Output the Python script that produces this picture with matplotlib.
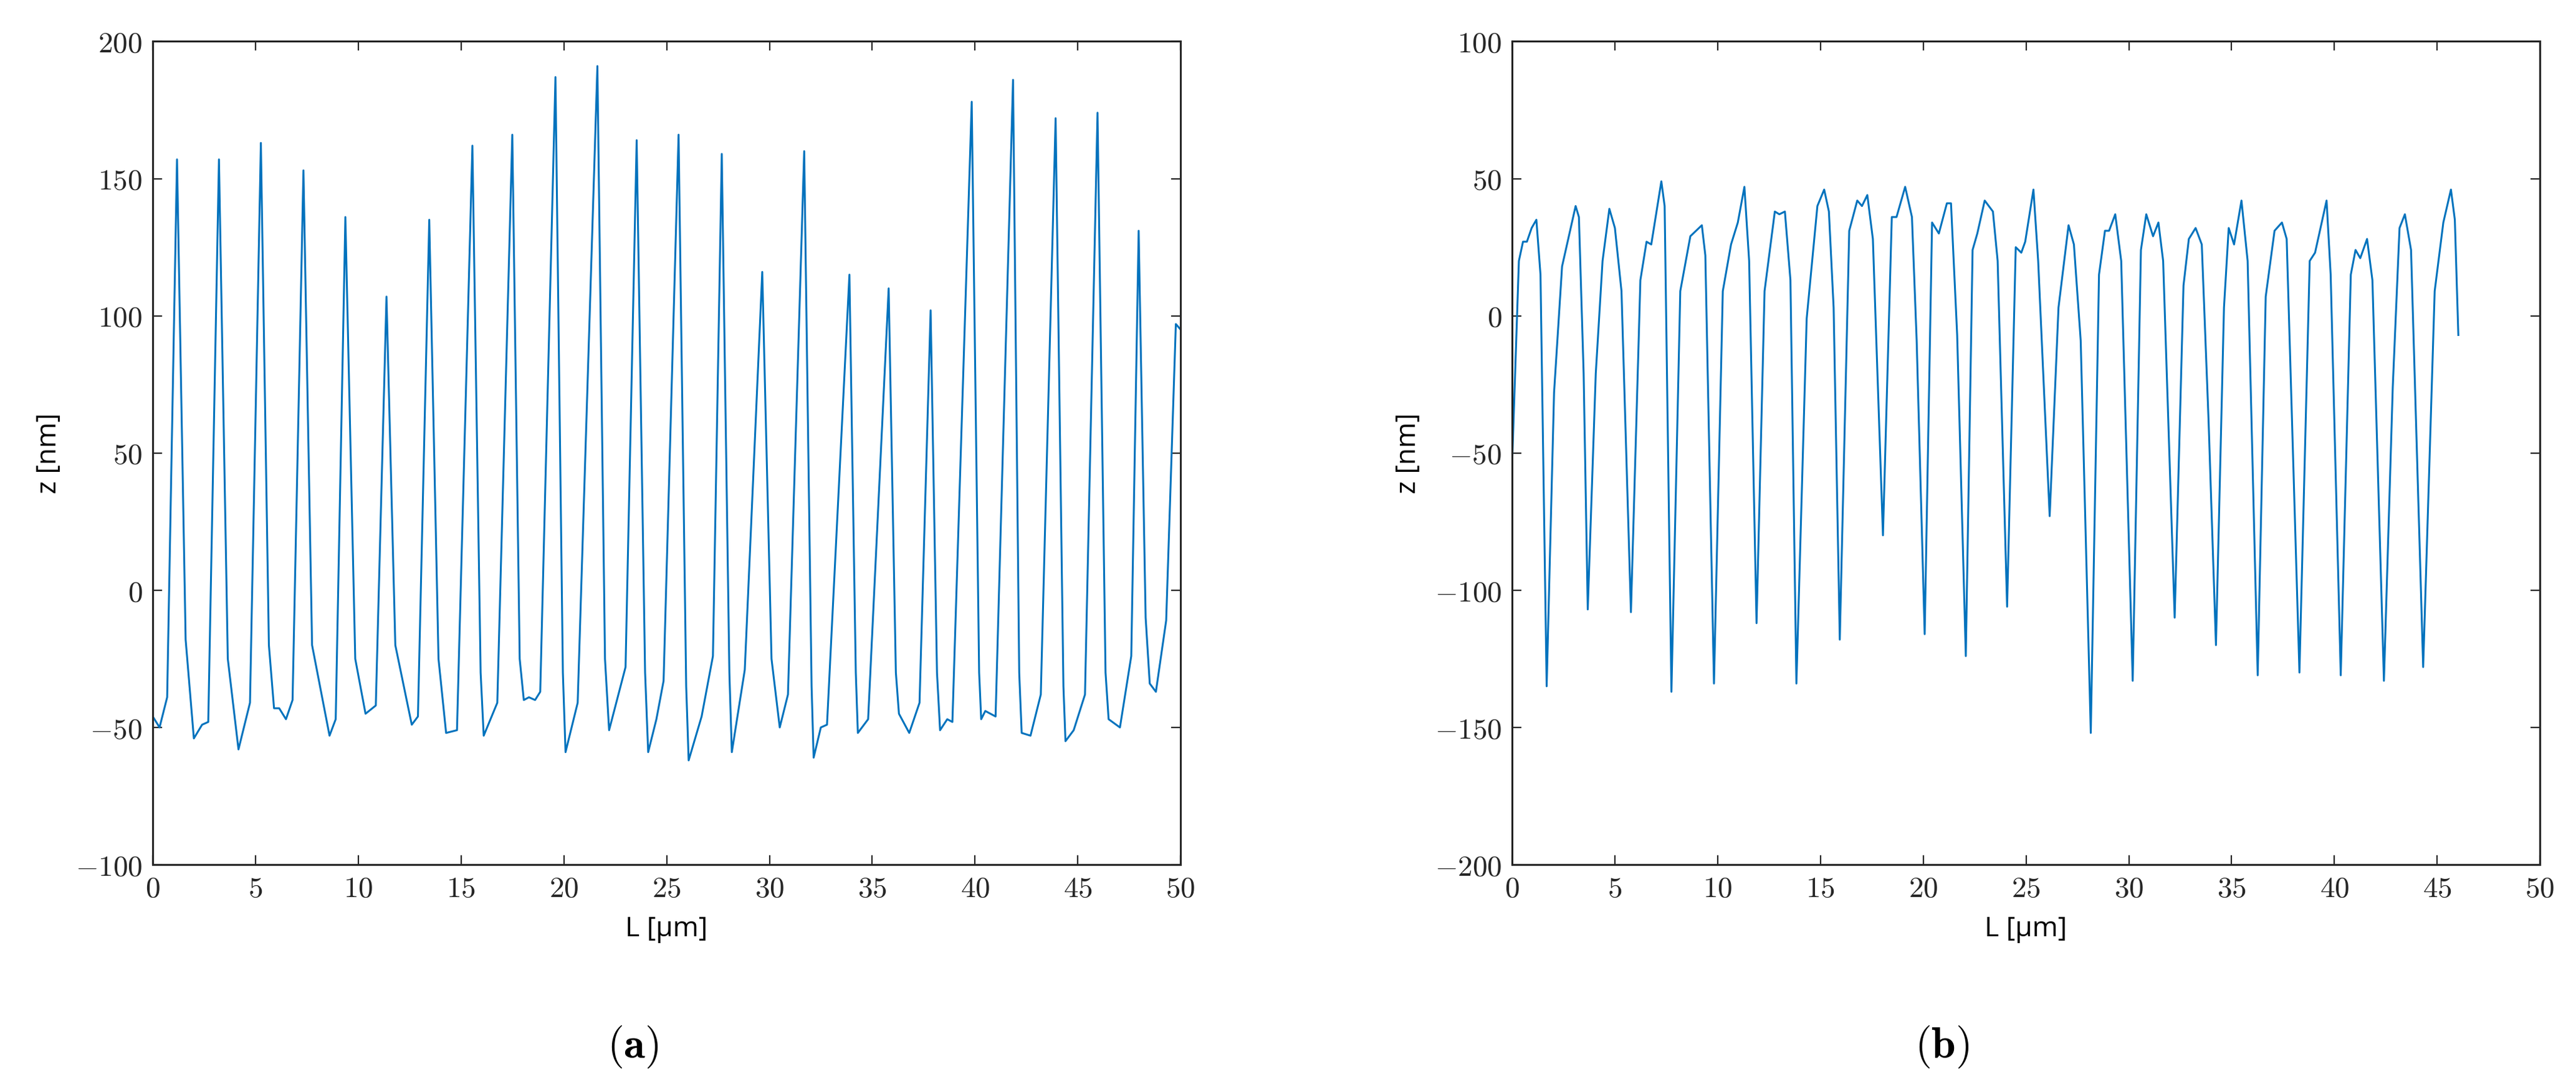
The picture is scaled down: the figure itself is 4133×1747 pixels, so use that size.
import numpy as np
import matplotlib.pyplot as plt
from matplotlib.ticker import FuncFormatter

plt.rcParams.update({
    'mathtext.fontset': 'cm',
    'axes.linewidth': 2.2,
    'axes.edgecolor': '#262626',
    'xtick.direction': 'in',
    'ytick.direction': 'in',
    'xtick.major.size': 11,
    'ytick.major.size': 11,
    'xtick.major.width': 1.6,
    'ytick.major.width': 1.6,
    'xtick.color': '#262626',
    'ytick.color': '#262626',
})

LINE = '#0072BD'

# profile (a): (L, z) keypoints
a_L = [0, 0.33, 0.7, 1.18, 1.6, 2.0, 2.4, 2.7, 3.22, 3.65, 4.17, 4.73, 5.26, 5.65, 5.9, 6.15, 6.48, 6.8,
       7.33, 7.75, 8.6, 8.9, 9.37, 9.85, 10.35, 10.85, 11.37, 11.8, 12.6, 12.9, 13.45, 13.9, 14.27, 14.8,
       15.55, 15.95, 16.1, 16.76, 17.49, 17.85, 18.05, 18.3, 18.6, 18.85, 19.59, 19.95, 20.08, 20.67,
       21.63, 22.0, 22.2, 23.0, 23.54, 23.95, 24.1, 24.5, 24.85, 25.58, 25.95, 26.07, 26.7, 27.25,
       27.68, 28.05, 28.17, 28.8, 29.65, 30.1, 30.5, 30.9, 31.69, 32.05, 32.15, 32.5, 32.8, 33.89,
       34.2, 34.3, 34.8, 35.8, 36.15, 36.3, 36.8, 37.3, 37.84, 38.15, 38.3, 38.65, 38.9, 39.84, 40.2,
       40.3, 40.5, 41.0, 41.85, 42.15, 42.27, 42.7, 43.2, 43.92, 44.3, 44.4, 44.8, 45.35, 45.96, 46.35,
       46.5, 47.05, 47.6, 47.96, 48.3, 48.5, 48.8, 49.3, 49.77, 50.0]
a_z = [-46, -50, -39, 157, -18, -54, -49, -48, 157, -25, -58, -41, 163, -20, -43, -43, -47, -40,
       153, -20, -53, -47, 136, -25, -45, -42, 107, -20, -49, -46, 135, -25, -52, -51,
       162, -30, -53, -41, 166, -25, -40, -39, -40, -37, 187, -30, -59, -41,
       191, -25, -51, -28, 164, -30, -59, -47, -33, 166, -35, -62, -46, -24,
       159, -30, -59, -29, 116, -25, -50, -38, 160, -35, -61, -50, -49, 115,
       -30, -52, -47, 110, -30, -45, -52, -41, 102, -30, -51, -47, -48, 178, -30,
       -47, -44, -46, 186, -30, -52, -53, -38, 172, -35, -55, -51, -38, 174, -30,
       -47, -50, -24, 131, -10, -34, -37, -11, 97, 95]

# profile (b)
b_L = [0, 0.33, 0.53, 0.72, 0.95, 1.18, 1.38, 1.68, 2.04, 2.43, 2.7, 3.09, 3.25, 3.48, 3.68, 4.07, 4.4,
       4.73, 5.0, 5.32, 5.78, 6.24, 6.54, 6.77, 7.26, 7.42, 7.75, 8.18, 8.67, 9.23, 9.4, 9.82, 10.25,
       10.65, 10.98, 11.3, 11.53, 11.89, 12.28, 12.78, 13.0, 13.27, 13.54, 13.83, 14.33, 14.85, 15.18,
       15.41, 15.64, 15.94, 16.4, 16.79, 17.02, 17.28, 17.55, 18.04, 18.47, 18.7, 19.12, 19.45, 19.68,
       20.07, 20.43, 20.76, 21.15, 21.35, 21.65, 22.07, 22.4, 22.63, 22.99, 23.39, 23.62, 24.08, 24.5,
       24.77, 24.96, 25.36, 25.59, 26.15, 26.58, 27.07, 27.33, 27.66, 28.15, 28.55, 28.84, 29.04, 29.34,
       29.63, 30.19, 30.59, 30.85, 31.18, 31.44, 31.67, 32.23, 32.66, 32.92, 33.25, 33.55, 33.88, 34.24,
       34.63, 34.86, 35.12, 35.48, 35.78, 36.27, 36.66, 37.09, 37.45, 37.68, 38.3, 38.8, 39.06, 39.62,
       39.82, 40.31, 40.8, 41.03, 41.26, 41.59, 41.85, 42.41, 42.84, 43.17, 43.43, 43.73, 44.32, 44.88,
       45.3, 45.67, 45.86, 46.03]
b_z = [-54, 20, 27, 27, 32, 35, 15, -135, -28, 18, 27, 40, 36, -21, -107, -21, 20,
       39, 32, 9, -108, 13, 27, 26, 49, 40, -137, 9, 29, 33, 22, -134, 9,
       26, 34, 47, 20, -112, 9, 38, 37, 38, 13, -134, -1, 40, 46,
       38, 3, -118, 31, 42, 40, 44, 28, -80, 36, 36, 47, 36, -9,
       -116, 34, 30, 41, 41, -7, -124, 24, 30, 42, 38, 20, -106, 25,
       23, 27, 46, 20, -73, 3, 33, 26, -9, -152, 15, 31, 31, 37,
       20, -133, 24, 37, 29, 34, 20, -110, 11, 28, 32, 26, -38, -120,
       3, 32, 26, 42, 20, -131, 7, 31, 34, 28, -130, 20, 23, 42,
       15, -131, 15, 24, 21, 28, 13, -133, -26, 32, 37, 24, -128, 9,
       34, 46, 35, -7]

fig = plt.figure(figsize=(41.33, 17.47), dpi=100)
axa = fig.add_axes([0.0593, 0.206, 0.399, 0.756])
axb = fig.add_axes([0.587, 0.206, 0.399, 0.756])

math_fmt = FuncFormatter(lambda v, p: f'${v:g}$')

for ax, L, z, ylim, yticks in [(axa, a_L, a_z, (-100, 200), np.arange(-100, 201, 50)),
                               (axb, b_L, b_z, (-200, 100), np.arange(-200, 101, 50))]:
    ax.plot(L, z, color=LINE, lw=2.2)
    ax.set_xlim(0, 50)
    ax.set_ylim(*ylim)
    ax.set_xticks(np.arange(0, 51, 5))
    ax.set_yticks(yticks)
    ax.xaxis.set_major_formatter(math_fmt)
    ax.yaxis.set_major_formatter(math_fmt)
    ax.tick_params(top=True, right=True, labelsize=34, pad=12)
    ax.set_xlabel('L [µm]', fontsize=32, family='Open Sans', labelpad=14)
    ax.set_ylabel('z [nm]', fontsize=32, family='Open Sans', labelpad=14)

fig.text(1015 / 4133, 1 - 1679 / 1747, r'$(\mathbf{a})$', fontsize=50, ha='center', va='center')
fig.text(3116 / 4133, 1 - 1679 / 1747, r'$(\mathbf{b})$', fontsize=50, ha='center', va='center')

fig.savefig('out.png', dpi=100)
